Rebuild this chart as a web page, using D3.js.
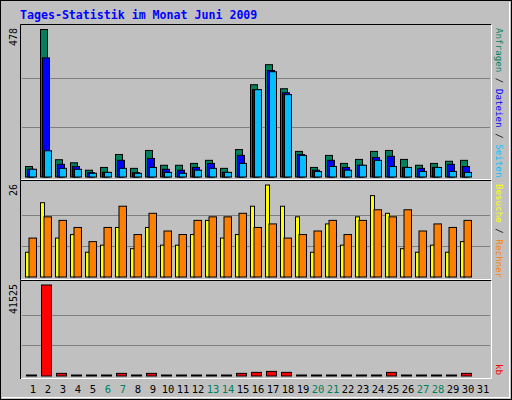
<!DOCTYPE html><html><head><meta charset="utf-8"><script src="https://cdn.jsdelivr.net/npm/d3@7"></script>
<style>body{margin:0;background:#fff}text{font-family:"DejaVu Sans Mono",monospace}</style></head><body><svg id="c" width="512" height="400"></svg>
<script>
const days=d3.range(1,32);
const weekend=[6,7,13,14,20,21,27,28];
const hits=[34,478,56,46,22,31,73,28,86,38,38,44,54,28,89,299,364,286,83,31,70,44,57,83,86,57,38,44,51,54,0];
const files=[25,386,41,34,14,15,54,14,60,25,22,31,44,15,70,283,345,273,73,22,54,31,38,63,67,31,28,31,41,34,0];
const pages=[25,85,28,25,12,15,28,12,31,15,12,22,28,15,44,283,341,267,70,18,34,22,38,54,34,31,18,31,18,15,0];
const visits=[7,21,11,12,7,9,14,8,14,9,9,12,16,11,12,20,26,20,17,7,15,9,17,23,18,8,7,9,7,10,0];
const sites=[11,17,16,14,10,14,20,12,18,13,12,16,17,17,18,14,15,11,12,13,16,12,16,19,17,19,13,15,14,16,0];
const kbytes=[100,41525,1200,100,100,100,1200,100,1200,100,100,100,100,100,1200,1660,2100,1660,100,100,100,100,100,100,1660,100,100,100,100,1200,0];
const maxima={hits:478,visits:26,kb:41525};

const svg=d3.select("#c");
svg.append("rect").attr("x",0.5).attr("y",0.5).attr("width",511).attr("height",399).attr("fill","#c0c0c0").attr("stroke","#000");
svg.append("path").attr("d","M2,397.5H509.5V2").attr("stroke","#fff").attr("fill","none");
svg.append("text").attr("x",20).attr("y",19).attr("fill","#0000ff").attr("font-weight","bold").attr("font-size","11.6px").text("Tages-Statistik im Monat Juni 2009");

const x=d3.scaleLinear().domain([1,31]).range([25,475]);
const L=21,R=491;
function panel(top,bot){
  svg.append("rect").attr("x",L).attr("y",top).attr("width",R-L).attr("height",bot-top).attr("fill","#c0c0c0");
  svg.append("path").attr("d",`M${L-0.5},${bot}V${top-0.5}H${R}`).attr("stroke","#000").attr("fill","none");
  svg.append("path").attr("d",`M${L},${bot-0.5}H${R+0.5}V${top}`).attr("stroke","#fff").attr("fill","none");
}
panel(25,180);panel(181,280);panel(281,379);

function grid(y){[1/3,2/3].forEach(f=>{const v=y.domain()[1]*f;svg.append("line").attr("x1",L+1).attr("x2",R-1).attr("y1",Math.round(y(v))+0.5).attr("y2",Math.round(y(v))+0.5).attr("stroke","#808080");});}
function bars(data,y,off,w,col){
  svg.append("g").selectAll("rect").data(data.map((v,i)=>({v,d:i+1})).filter(o=>o.v>0)).join("rect")
   .attr("x",o=>x(o.d)+off+0.5).attr("width",w).attr("y",o=>Math.min(y(o.v),y(0)-1)+0.5).attr("height",o=>Math.max(1,y(0)-y(o.v)))
   .attr("fill",col).attr("stroke","#000");
}
const y1=d3.scaleLinear().domain([0,maxima.hits]).range([176.5,29]);
grid(y1);
bars(hits,y1,0,7,"#00805c");bars(files,y1,2,7,"#0000ff");bars(pages,y1,4,7,"#00c0ff");
const y2=d3.scaleLinear().domain([0,maxima.visits]).range([276.5,184.5]);
grid(y2);
bars(visits,y2,0,4,"#ffff00");bars(sites,y2,3.5,7.5,"#ff8000");
const y3=d3.scaleLinear().domain([0,maxima.kb]).range([375.5,284.5]);
grid(y3);
bars(kbytes,y3,1,10,"#ff0000");

function ylab(t,top){svg.append("text").attr("transform",`translate(17,${top}) rotate(-90)`).attr("text-anchor","end").attr("font-size","10px").text(t);}
ylab(maxima.hits,28);ylab(maxima.visits,184);ylab(maxima.kb,284);

function rlab(parts,y0){const t=svg.append("text").attr("transform",`translate(496,${y0}) rotate(90)`).attr("font-size","9.2px");
 parts.forEach(p=>t.append("tspan").attr("fill",p[1]).text(p[0]));}
rlab([["Anfragen","#00805c"],[" / ","#000"],["Dateien","#0000ff"],[" / ","#000"],["Seiten","#00c0ff"]],28);
rlab([["Besuche","#ffff00"],[" / ","#000"],["Rechner","#ff8000"]],184);
rlab([["kb","#ff0000"]],364);

svg.append("g").selectAll("text").data(days).join("text").attr("x",d=>x(d)+8).attr("y",393).attr("text-anchor","middle")
 .attr("font-size","10.5px").attr("fill",d=>weekend.includes(d)?"#00805c":"#000").attr("font-family","DejaVu Sans").text(d=>d);
</script></body></html>
